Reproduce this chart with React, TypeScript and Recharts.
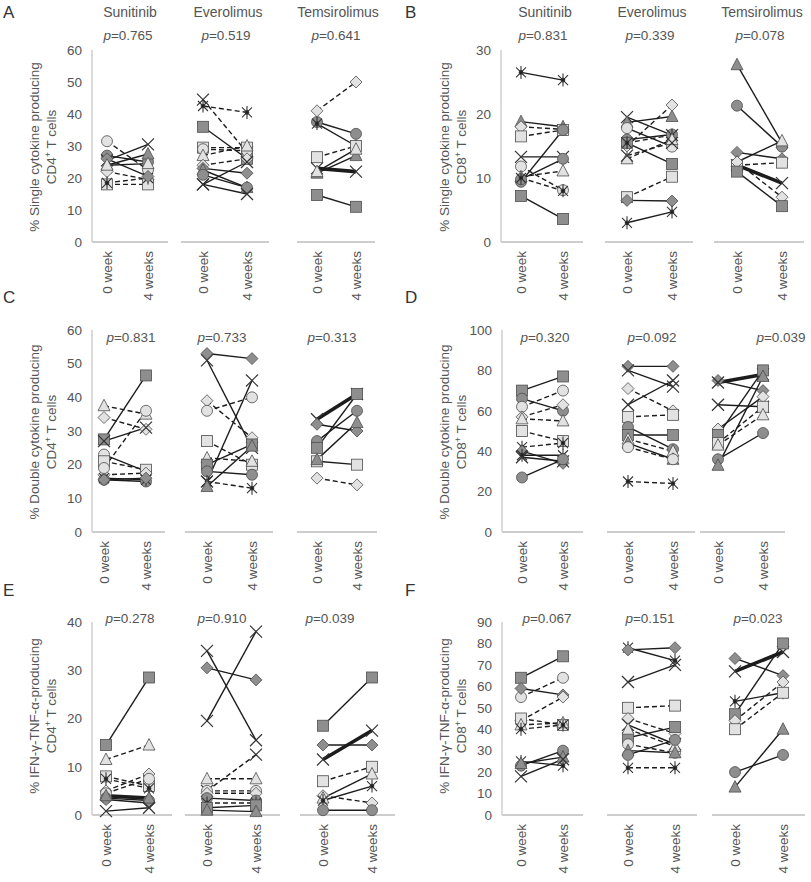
import React from 'react';
import { LineChart, Line, XAxis, YAxis } from 'recharts';

const TIMES = ['0 week', '4 weeks'];
const DRUGS = ['Sunitinib', 'Everolimus', 'Temsirolimus'];

// ---------- Panel A : % single cytokine producing CD4+ ----------
const aSun0 = [31.5, 27, 25.5, 24, 22, 18, 18.5, 26, 24];
const aSun4 = [22.5, 25, 30.5, 27.5, 19.5, 18, 20, 20.5, 24.5];
const aSunMk = ['oL', 'oD', 'x', 'tD', 'dL', 'sL', '*', 'dD', 'tL'];
const aSunLn = ['d', 's', 's', 's', 'd', 'd', 'd', 's', 's'];
const aEve0 = [44.5, 42.5, 36, 29.5, 29, 27, 24, 23, 22.5, 18, 21, 18];
const aEve4 = [28, 40.5, 26, 29.5, 28.5, 30, 26, 21.5, 17, 25, 17, 15];
const aEveMk = ['x', '*', 'sD', 'sL', 'oL', 'tL', 'dL', 'dD', 'tD', 'x', 'oD', 'x'];
const aEveLn = ['d', 'd', 's', 'd', 'd', 'd', 'd', 's', 's', 's', 's', 's'];
const aTem0 = [41, 37.5, 37, 26.5, 23, 21.5, 22, 14.7];
const aTem4 = [50, 33.8, 30, 30, 22, 27, 29, 11];
const aTemMk = ['dL', 'oD', '*', 'sL', 'x', 'tD', 'tL', 'sD'];
const aTemLn = ['d', 's', 's', 'd', 'b', 's', 's', 's'];
const aTicks = [0, 10, 20, 30, 40, 50, 60];
const aP = ['0.765', '0.519', '0.641'];

// ---------- Panel B : % single cytokine producing CD8+ ----------
const bSun0 = [26.5, 18.8, 18, 16.5, 13.3, 11.8, 10.2, 9.4, 9.8, 7.2, 10];
const bSun4 = [25.3, 18, 17.6, 17.5, 13.3, 8.1, 11.1, 17.5, 13, 3.6, 8];
const bSunMk = ['*', 'tD', 'dL', 'sL', 'x', 'oL', 'tL', 'oD', 'oD', 'sD', '*'];
const bSunLn = ['s', 's', 'd', 'd', 's', 'd', 'd', 's', 's', 's', 'd'];
const bEve0 = [19.5, 18.7, 17.8, 16, 15, 15.5, 15.5, 13, 13.5, 7, 6.5, 3];
const bEve4 = [16.7, 19.6, 14.9, 16.8, 21.4, 12.2, 16.7, 16, 15.5, 10.2, 6.4, 4.7];
const bEveMk = ['x', 'tD', 'oL', 'oD', 'dL', 'sD', '*', 'tL', 'x', 'sL', 'dD', '*'];
const bEveLn = ['s', 's', 's', 's', 'd', 's', 'd', 'd', 'd', 'd', 's', 's'];
const bTem0 = [27.7, 21.3, 14, 12.5, 12, 12, 12.5, 11];
const bTem4 = [15.5, 14.9, 13, 15.8, 9.2, 12.4, 7, 5.6];
const bTemMk = ['tD', 'oD', 'dD', 'tL', 'x', 'sL', 'dL', 'sD'];
const bTemLn = ['s', 's', 's', 's', 'b', 'd', 'd', 's'];
const bTicks = [0, 10, 20, 30];
const bP = ['0.831', '0.339', '0.078'];

// ---------- Panel C : % double cytokine producing CD4+ ----------
const cSun0 = [37.5, 34, 27.5, 27, 23, 21, 17, 15.5, 16, 15.5, 19];
const cSun4 = [35, 30.5, 46.5, 31, 18, 18.5, 17.5, 15, 15.5, 16, 36];
const cSunMk = ['tL', 'dL', 'sD', 'x', 'oL', 'sL', 'dL', 'oD', '*', 'dD', 'oL'];
const cSunLn = ['d', 'd', 's', 's', 's', 'd', 'd', 's', 's', 's', 'd'];
const cEve0 = [53, 51, 39, 36, 27, 15, 22, 20, 18, 15, 13.5];
const cEve4 = [51.5, 25, 28, 40, 20, 45, 21, 26, 17, 13, 25.5];
const cEveMk = ['dD', 'x', 'dL', 'oL', 'sL', 'x', 'tL', 'sD', 'oD', '*', 'tD'];
const cEveLn = ['s', 's', 'd', 'd', 'd', 's', 'd', 's', 's', 'd', 's'];
const cTem0 = [33.5, 32, 27, 25, 21, 21.5, 16];
const cTem4 = [41, 30, 36, 41, 20, 32.5, 14];
const cTemMk = ['x', 'dD', 'oD', 'sD', 'sL', 'tD', 'dL'];
const cTemLn = ['b', 's', 's', 's', 's', 's', 'd'];
const cTicks = [0, 10, 20, 30, 40, 50, 60];
const cP = ['0.831', '0.733', '0.313'];

// ---------- Panel D : % double cytokine producing CD8+ ----------
const dSun0 = [70, 66, 62, 57, 56, 50, 42, 40, 38, 37, 27];
const dSun4 = [77, 60, 70, 63, 55, 45, 44, 34, 38, 35, 36];
const dSunMk = ['sD', 'oD', 'oL', 'dL', 'tL', 'sL', '*', 'dD', '*', 'x', 'oD'];
const dSunLn = ['s', 's', 'd', 'd', 'd', 'd', 'd', 's', 's', 's', 's'];
const dEve0 = [82, 80, 71, 63, 57, 52, 48, 46, 44, 42, 25];
const dEve4 = [82, 72, 60, 75, 58, 41, 48, 40, 36, 36, 24];
const dEveMk = ['dD', 'x', 'dL', 'x', 'sL', 'oD', 'sD', 'tL', 'tD', 'oL', '*'];
const dEveLn = ['s', 's', 'd', 's', 'd', 's', 's', 'd', 's', 'd', 'd'];
const dTem0 = [75, 74, 63, 51, 48, 44, 43, 36, 33];
const dTem4 = [70, 78, 62, 67, 80, 62, 58, 49, 77];
const dTemMk = ['dD', 'x', 'x', 'dL', 'sD', 'sL', 'tL', 'oD', 'tD'];
const dTemLn = ['s', 'b', 's', 's', 's', 'd', 'd', 's', 's'];
const dTicks = [0, 20, 40, 60, 80, 100];
const dP = ['0.320', '0.092', '0.039'];

// ---------- Panel E : % IFN-γ TNF-α producing CD4+ ----------
const eSun0 = [14.5, 11.5, 8, 7.5, 5, 4.5, 3.5, 3.2, 4, 0.8];
const eSun4 = [28.5, 14.5, 6, 5.5, 8.5, 7.5, 3, 2.5, 3.5, 1.5];
const eSunMk = ['sD', 'tL', 'sL', '*', 'dL', 'oL', 'oD', 'dD', 'tD', 'x'];
const eSunLn = ['s', 'd', 'd', 'd', 'd', 'd', 's', 's', 'b', 's'];
const eEve0 = [34, 30.5, 19.5, 7.5, 5, 5, 4.5, 3.5, 2.5, 1.5, 1];
const eEve4 = [15.5, 28, 38, 7.5, 12.5, 5, 4.5, 3, 2.5, 2, 0.7];
const eEveMk = ['x', 'dD', 'x', 'tL', 'x', 'oL', 'dL', 'oD', '*', 'sD', 'tD'];
const eEveLn = ['s', 's', 's', 'd', 'd', 'd', 'd', 's', 'd', 's', 's'];
const eTem0 = [18.5, 14.5, 11.5, 7, 4, 3.5, 3, 1];
const eTem4 = [28.5, 14.5, 17.5, 10, 2.5, 8.5, 6, 1];
const eTemMk = ['sD', 'dD', 'x', 'sL', 'dL', 'tL', '*', 'oD'];
const eTemLn = ['s', 's', 'b', 'd', 'd', 's', 's', 's'];
const eTicks = [0, 10, 20, 30, 40];
const eP = ['0.278', '0.910', '0.039'];

// ---------- Panel F : % IFN-γ TNF-α producing CD8+ ----------
const fSun0 = [64, 55, 59, 44, 45, 42, 40, 23, 25, 24, 18];
const fSun4 = [74, 64, 56, 55, 42, 43, 42, 30, 23, 27, 26];
const fSunMk = ['sD', 'oL', 'dD', 'dL', 'sL', 'tL', '*', 'oD', '*', 'tD', 'x'];
const fSunLn = ['s', 'd', 's', 'd', 'd', 'd', 'd', 's', 's', 's', 's'];
const fEve0 = [78, 77, 62, 50, 45, 42, 36, 33, 40, 30, 28, 22];
const fEve4 = [72, 78, 70, 51, 38, 33, 41, 29, 32, 29, 35, 22];
const fEveMk = ['*', 'dD', 'x', 'sL', 'dL', 'x', 'sD', 'oL', 'tL', 'tD', 'oD', '*'];
const fEveLn = ['s', 's', 's', 'd', 'd', 's', 's', 'd', 'd', 's', 's', 'd'];
const fTem0 = [73, 67, 53, 47, 44, 40, 20, 13];
const fTem4 = [65, 76, 57, 80, 62, 57, 28, 40];
const fTemMk = ['dD', 'x', '*', 'sD', 'dL', 'sL', 'oD', 'tD'];
const fTemLn = ['s', 'b', 's', 's', 'd', 'd', 's', 's'];
const fTicks = [0, 10, 20, 30, 40, 50, 60, 70, 80, 90];
const fP = ['0.067', '0.151', '0.023'];

// ---------- layout (pixels) ----------
type Lay = { ax: number; top: number; bottom: number; segs: number[][]; pts: number[][]; pX: number[]; pY: number; titleX: number[]; titleY: number; letter: number[] };
const LAY: Record<string, Lay> = {
  A: { ax: 92, top: 50, bottom: 242, segs: [[92, 168], [181, 269], [297, 375]], pts: [[107, 148], [203, 247], [317, 356]], pX: [128, 226, 336], pY: 40, titleX: [34, 51], titleY: 147, letter: [3, 18] },
  B: { ax: 501, top: 50, bottom: 242, segs: [[501, 583], [605, 693], [714, 804]], pts: [[521, 563], [627, 672], [737, 782]], pX: [543, 650, 760], pY: 40, titleX: [444, 461], titleY: 147, letter: [405, 18] },
  C: { ax: 92, top: 330, bottom: 532, segs: [[92, 165], [185, 273], [297, 377]], pts: [[104, 146], [207, 252], [317, 357]], pX: [131, 222, 332], pY: 342, titleX: [34, 51], titleY: 432, letter: [3, 303] },
  D: { ax: 502, top: 330, bottom: 532, segs: [[502, 583], [607, 695], [700, 785]], pts: [[522, 563], [628, 673], [718, 763]], pX: [545, 652, 781], pY: 342, titleX: [444, 461], titleY: 432, letter: [405, 303] },
  E: { ax: 92, top: 622, bottom: 815, segs: [[92, 172], [185, 280], [300, 395]], pts: [[106, 149], [207, 256], [323, 372]], pX: [130, 222, 330], pY: 623, titleX: [34, 51], titleY: 716, letter: [3, 596] },
  F: { ax: 502, top: 622, bottom: 815, segs: [[502, 583], [607, 697], [712, 805]], pts: [[521, 563], [628, 675], [735, 783]], pX: [547, 650, 758], pY: 623, titleX: [444, 461], titleY: 716, letter: [405, 596] },
};

type Grp = { w0: number[]; w4: number[]; mk: string[]; ln: string[] };
type Panel = { key: string; title: string; cell: string; ticks: number[]; p: string[]; groups: Grp[] };

const PANELS: Panel[] = [
  { key: 'A', title: '% Single cytokine producing', cell: 'CD4', ticks: aTicks, p: aP, groups: [
    { w0: aSun0, w4: aSun4, mk: aSunMk, ln: aSunLn }, { w0: aEve0, w4: aEve4, mk: aEveMk, ln: aEveLn }, { w0: aTem0, w4: aTem4, mk: aTemMk, ln: aTemLn }] },
  { key: 'B', title: '% Single cytokine producing', cell: 'CD8', ticks: bTicks, p: bP, groups: [
    { w0: bSun0, w4: bSun4, mk: bSunMk, ln: bSunLn }, { w0: bEve0, w4: bEve4, mk: bEveMk, ln: bEveLn }, { w0: bTem0, w4: bTem4, mk: bTemMk, ln: bTemLn }] },
  { key: 'C', title: '% Double cytokine producing', cell: 'CD4', ticks: cTicks, p: cP, groups: [
    { w0: cSun0, w4: cSun4, mk: cSunMk, ln: cSunLn }, { w0: cEve0, w4: cEve4, mk: cEveMk, ln: cEveLn }, { w0: cTem0, w4: cTem4, mk: cTemMk, ln: cTemLn }] },
  { key: 'D', title: '% Double cytokine producing', cell: 'CD8', ticks: dTicks, p: dP, groups: [
    { w0: dSun0, w4: dSun4, mk: dSunMk, ln: dSunLn }, { w0: dEve0, w4: dEve4, mk: dEveMk, ln: dEveLn }, { w0: dTem0, w4: dTem4, mk: dTemMk, ln: dTemLn }] },
  { key: 'E', title: '% IFN-γ-TNF-α-producing', cell: 'CD4', ticks: eTicks, p: eP, groups: [
    { w0: eSun0, w4: eSun4, mk: eSunMk, ln: eSunLn }, { w0: eEve0, w4: eEve4, mk: eEveMk, ln: eEveLn }, { w0: eTem0, w4: eTem4, mk: eTemMk, ln: eTemLn }] },
  { key: 'F', title: '% IFN-γ-TNF-α-producing', cell: 'CD8', ticks: fTicks, p: fP, groups: [
    { w0: fSun0, w4: fSun4, mk: fSunMk, ln: fSunLn }, { w0: fEve0, w4: fEve4, mk: fEveMk, ln: fEveLn }, { w0: fTem0, w4: fTem4, mk: fTemMk, ln: fTemLn }] },
];

const FONT = '"Liberation Sans", Arial, sans-serif';
const TXT = '#555';

function Marker({ cx, cy, code }: { cx: number; cy: number; code: string }) {
  if (cx == null || cy == null) return null;
  const fill = code.endsWith('D') ? '#8e8e8e' : '#e2e2e2';
  const st = '#4d4d4d';
  const t = code[0];
  if (t === 'o') return <circle cx={cx} cy={cy} r={5.5} fill={fill} stroke={st} strokeWidth={0.8} />;
  if (t === 's') return <rect x={cx - 5.5} y={cy - 5.5} width={11} height={11} fill={fill} stroke={st} strokeWidth={0.8} />;
  if (t === 'd') return <polygon points={`${cx},${cy - 6} ${cx + 6},${cy} ${cx},${cy + 6} ${cx - 6},${cy}`} fill={fill} stroke={st} strokeWidth={0.8} />;
  if (t === 't') return <polygon points={`${cx},${cy - 6.5} ${cx + 6},${cy + 5} ${cx - 6},${cy + 5}`} fill={fill} stroke={st} strokeWidth={0.8} />;
  if (t === 'x')
    return (
      <g stroke="#333" strokeWidth={1.2}>
        <line x1={cx - 6} y1={cy - 6} x2={cx + 6} y2={cy + 6} />
        <line x1={cx - 6} y1={cy + 6} x2={cx + 6} y2={cy - 6} />
      </g>
    );
  return (
    <g stroke="#333" strokeWidth={1.1}>
      <line x1={cx - 5} y1={cy - 5} x2={cx + 5} y2={cy + 5} />
      <line x1={cx - 5} y1={cy + 5} x2={cx + 5} y2={cy - 5} />
      <line x1={cx} y1={cy - 6.5} x2={cx} y2={cy + 6.5} />
      <circle cx={cx} cy={cy} r={1.8} fill="#222" />
    </g>
  );
}

const RotTick = (props: any) => {
  const { x, y, payload } = props;
  return (
    <text x={x} y={y} transform={`rotate(-90 ${x} ${y})`} textAnchor="end" dy="0.35em" dx={-1} fontSize={13.5} fill={TXT} fontFamily={FONT}>
      {payload.value}
    </text>
  );
};

function GroupChart({ lay, gi, grp, ticks }: { lay: Lay; gi: number; grp: Grp; ticks: number[] }) {
  const withY = gi === 0;
  const seg = lay.segs[gi];
  const pts = lay.pts[gi];
  const yW = 45;
  const left = withY ? lay.ax - yW : seg[0];
  const width = seg[1] - left;
  const mt = 14;
  const xh = 75;
  const height = lay.bottom - lay.top + mt + xh;
  const max = ticks[ticks.length - 1];
  const rows = TIMES.map((t, i) => {
    const r: any = { t };
    grp.w0.forEach((v, k) => {
      r['p' + k] = i === 0 ? v : grp.w4[k];
    });
    return r;
  });
  return (
    <div style={{ position: 'absolute', left, top: lay.top - mt }}>
      <LineChart width={width} height={height} data={rows} margin={{ top: mt, right: 0, bottom: 0, left: 0 }}>
        <XAxis
          dataKey="t"
          type="category"
          interval={0}
          padding={{ left: pts[0] - seg[0], right: seg[1] - pts[1] }}
          height={xh}
          tickLine={false}
          axisLine={{ stroke: '#bcbcbc', strokeWidth: 1.5 }}
          tick={RotTick}
        />
        <YAxis
          type="number"
          hide={!withY}
          width={yW}
          domain={[0, max]}
          ticks={ticks}
          interval={0}
          tickLine={false}
          axisLine={{ stroke: '#cfcfcf', strokeWidth: 1.5 }}
          tick={{ fontSize: 13.5, fill: TXT, fontFamily: FONT }}
          tickMargin={4}
        />
        {grp.w0.map((_, k) => {
          const ln = grp.ln[k];
          const mk = grp.mk[k];
          return (
            <Line
              key={k}
              dataKey={'p' + k}
              type="linear"
              stroke="#1c1c1c"
              strokeWidth={ln === 'b' ? 3.6 : 1.4}
              strokeDasharray={ln === 'd' ? '5 3' : undefined}
              isAnimationActive={false}
              activeDot={false}
              dot={(p: any) => <Marker key={`m${k}-${p.index}`} cx={p.cx} cy={p.cy} code={mk} />}
            />
          );
        })}
      </LineChart>
    </div>
  );
}

function Overlay() {
  return (
    <svg width={811} height={882} style={{ position: 'absolute', left: 0, top: 0, pointerEvents: 'none' }} fontFamily={FONT}>
      {['A', 'B'].map((k) =>
        DRUGS.map((d, i) => (
          <text key={k + d} x={LAY[k].pX[i] + 2} y={17} textAnchor="middle" fontSize={14} fill={TXT}>
            {d}
          </text>
        ))
      )}
      {PANELS.map((p) => {
        const lay = LAY[p.key];
        return (
          <g key={p.key}>
            <text x={lay.letter[0]} y={lay.letter[1]} fontSize={17} fill="#333">
              {p.key}
            </text>
            {p.p.map((v, i) => (
              <text key={i} x={lay.pX[i]} y={lay.pY} textAnchor="middle" fontSize={13.5} fill={TXT}>
                <tspan fontStyle="italic">p</tspan>={v}
              </text>
            ))}
            <text x={lay.titleX[0]} y={lay.titleY} transform={`rotate(-90 ${lay.titleX[0]} ${lay.titleY})`} textAnchor="middle" dy="0.35em" fontSize={13.5} fill={TXT}>
              {p.title}
            </text>
            <text x={lay.titleX[1]} y={lay.titleY} transform={`rotate(-90 ${lay.titleX[1]} ${lay.titleY})`} textAnchor="middle" dy="0.35em" fontSize={13.5} fill={TXT}>
              {p.cell}
              <tspan fontSize={9} dy={-5}>+</tspan>
              <tspan dy={5}> T cells</tspan>
            </text>
          </g>
        );
      })}
    </svg>
  );
}

export default function App() {
  return (
    <div style={{ position: 'absolute', left: 0, top: 0, width: 811, height: 882, background: '#fff', fontFamily: FONT }}>
      {PANELS.map((p) => p.groups.map((g, gi) => <GroupChart key={p.key + gi} lay={LAY[p.key]} gi={gi} grp={g} ticks={p.ticks} />))}
      <Overlay />
    </div>
  );
}
